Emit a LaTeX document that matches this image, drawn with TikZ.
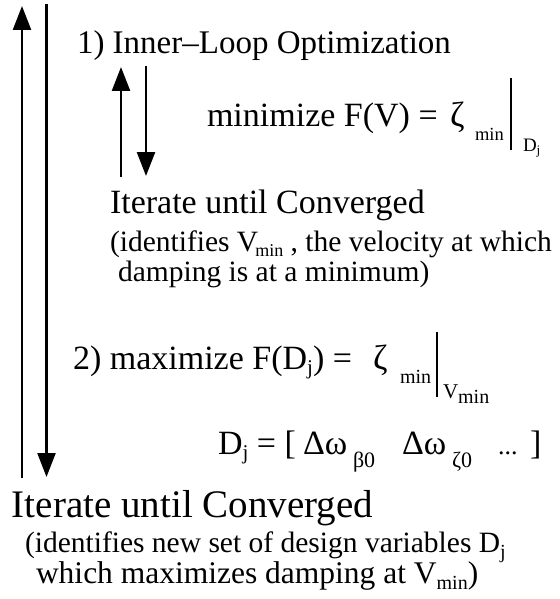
\documentclass[tikz,border=0pt]{standalone}
\usepackage{fontspec}
\setmainfont{Liberation Serif}
\usetikzlibrary{arrows.meta}
% font size in pt (1pt = one unit of the picture)
\newcommand\fs[1]{\fontsize{#1}{#1}\selectfont}
% lowered subscript: drop, size, text
\newcommand\sbs[3]{\raisebox{-#1pt}{\fs{#2}#3}}

\begin{document}
\begin{tikzpicture}[x=1pt,y=-1pt,
  txt/.style={anchor=base west,inner sep=0pt,outer sep=0pt},
  flow/.style={line width=2.4pt,-{Triangle[width=18pt,length=24pt]}},
  barline/.style={line width=1.3pt}]
\useasboundingbox (0,0) rectangle (559,599);

% outer loop arrows
\coordinate (outUpS) at (22,478);
\coordinate (outUpE) at (22,6);
\coordinate (outDnS) at (46.5,4);
\coordinate (outDnE) at (46.5,477);
\draw[flow] (outUpS) -- (outUpE);
\draw[flow] (outDnS) -- (outDnE);

% inner loop arrows
\coordinate (inUpS) at (121,177);
\coordinate (inUpE) at (121,67);
\coordinate (inDnS) at (146,66);
\coordinate (inDnE) at (146,176);
\draw[flow] (inUpS) -- (inUpE);
\draw[flow] (inDnS) -- (inDnE);

% step 1: inner loop
\node[txt,font=\fs{33}] (title) at (77,54) {1) Inner\textendash Loop Optimization};
\node[txt,font=\fs{34}] (minA) at (207,126) {minimize F(V) =};
\node[txt,font=\fs{35}] (zetaA) at (450,126) {ζ};
\node[txt,font=\fs{18.5}] (subA) at (475,140) {min};
\coordinate (barAt) at (511,78);
\coordinate (barAb) at (511,150);
\draw[barline] (barAt) -- (barAb);
\node[txt,font=\fs{19}] (evalA) at (523,151) {D\sbs{3}{13}{j}};

\node[txt,font=\fs{34}] (iterA) at (110,213) {Iterate until Converged};
\node[txt,font=\fs{29.5}] (noteA1) at (110,251) {(identifies V\kern-3pt\sbs{5}{18}{min} , the velocity at which};
\node[txt,font=\fs{29.5}] (noteA2) at (118,281) {damping is at a minimum)};

% step 2: outer loop
\node[txt,font=\fs{34}] (maxB) at (73,369) {2) maximize F(D\sbs{5}{21}{j}) =};
\node[txt,font=\fs{35}] (zetaB) at (373,369) {ζ};
\node[txt,font=\fs{20}] (subB) at (400,383) {min};
\coordinate (barBt) at (437,332);
\coordinate (barBb) at (437,397);
\draw[barline] (barBt) -- (barBb);
\node[txt,font=\fs{21}] (evalB) at (443,398) {V\sbs{5}{20}{min}};

\node[txt,font=\fs{34}] (dvec) at (218,454) {D\sbs{5}{21}{j} = [};
\node[txt,font=\fs{34}] (dwA) at (303,454) {Δω};
\node[txt,font=\fs{22}] (dwAs) at (353,467) {β0};
\node[txt,font=\fs{34}] (dwB) at (402,454) {Δω};
\node[txt,font=\fs{22}] (dwBs) at (452,467) {ζ0};
\node[txt,font=\fs{26}] (dots) at (498,454) {...};
\node[txt,font=\fs{34}] (rbr) at (530,454) {]};

\node[txt,font=\fs{39}] (iterB) at (12,517) {Iterate until Converged};
\node[txt,font=\fs{29.5}] (noteB1) at (25,552) {(identifies new set of design variables D\sbs{6}{20}{j}};
\node[txt,font=\fs{31.5}] (noteB2) at (36,583) {which maximizes damping at V\sbs{6}{20}{min})};
\end{tikzpicture}
\end{document}
